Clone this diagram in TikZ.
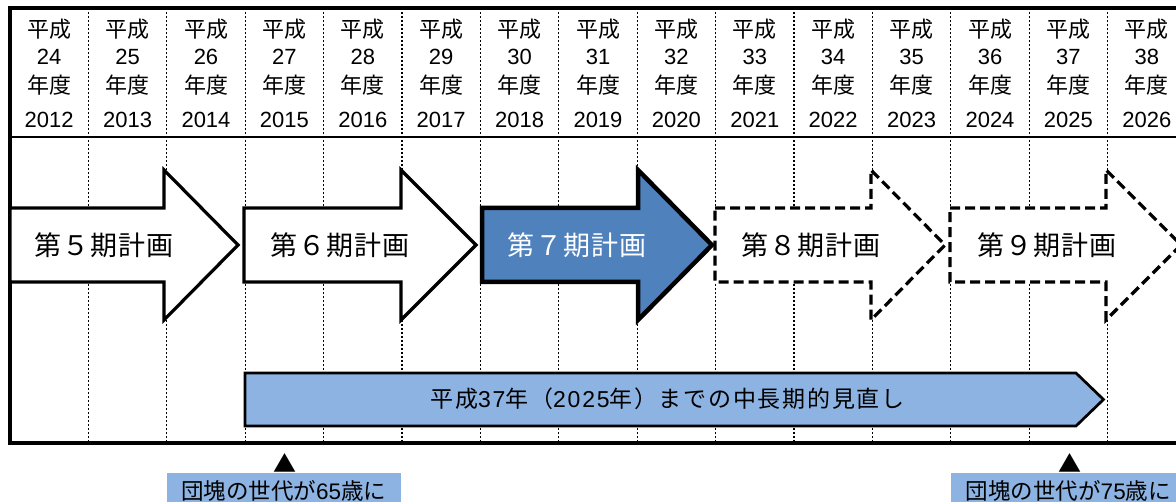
\documentclass[tikz,border=0pt]{standalone}
\usepackage{fontspec}
\setmainfont{Noto Sans CJK JP}
\newfontfamily\digitfont{Liberation Sans}
\newfontfamily\planfont[LetterSpace=3]{Noto Sans CJK JP}
\newfontfamily\barfont[LetterSpace=7.5]{Noto Sans CJK JP}
\newfontfamily\bardigits[LetterSpace=7.5]{Liberation Sans}
\definecolor{planblue}{RGB}{79,129,189}
\definecolor{barblue}{RGB}{141,179,226}
\newcommand\planshape[4]{\draw[#1] (#2,208) -- (#3,208) -- (#3,170) -- (#4,245) -- (#3,320) -- (#3,282) -- (#2,282) -- cycle;}
\tikzset{
  gridline/.style={line width=1.3pt, dash pattern=on 2pt off 2pt},
  frameline/.style={line width=3.5pt},
  sepline/.style={line width=2.5pt},
  planarrow/.style={draw=black, fill=white, line width=3.2pt, line join=miter},
  curplan/.style={planarrow, fill=planblue, line width=4.5pt},
  futplan/.style={planarrow, dash pattern=on 10pt off 5pt},
  barshape/.style={draw=black, fill=barblue, line width=2.7pt, line join=miter},
  hdr/.style={font=\fontsize{22}{22}\selectfont, inner sep=0pt},
  plantext/.style={font=\fontsize{27}{27}\planfont, inner sep=0pt},
  bartext/.style={font=\fontsize{23}{23}\barfont, inner sep=0pt},
  lbl/.style={fill=barblue, font=\fontsize{22.5}{22.5}\selectfont, inner sep=0pt, minimum width=234.5pt, minimum height=34pt, anchor=north},
  tri/.style={font=\fontsize{23}{23}\selectfont, inner sep=0pt}
}
\begin{document}
\begin{tikzpicture}[x=1pt,y=-1pt]
\useasboundingbox (0,0) rectangle (1176,502);
% column grid lines
\foreach \i in {1,...,15}{
  \pgfmathsetmacro\gx{10+78.4*\i}
  \draw[gridline] (\gx,8) -- (\gx,443);
}
% frame
\draw[frameline] (1195,8) -- (10,8) -- (10,443) -- (1195,443);
\draw[sepline] (10,137) -- (1195,137);
% header texts
\foreach \i/\h/\yr in {0/24/2012,1/25/2013,2/26/2014,3/27/2015,4/28/2016,5/29/2017,6/30/2018,7/31/2019,8/32/2020,9/33/2021,10/34/2022,11/35/2023,12/36/2024,13/37/2025,14/38/2026}{
  \pgfmathsetmacro\cx{10+78.4*(\i+0.5)}
  \node[hdr] (era\i) at (\cx,29) {平成};
  \node[hdr] (num\i) at (\cx,57) {\digitfont\h};
  \node[hdr] (nendo\i) at (\cx,85) {年度};
  \node[hdr] (year\i) at (\cx,120) {\digitfont\yr};
}
% plan arrows
\planshape{planarrow}{10}{164}{238}
\planshape{planarrow}{244}{401}{476}
\planshape{curplan}{482}{638}{712}
\planshape{futplan}{715}{871}{945}
\planshape{futplan}{950}{1106}{1181}
\node[plantext] (p5) at (104,245) {第５期計画};
\node[plantext] (p6) at (340,245) {第６期計画};
\node[plantext, text=white] (p7) at (577,245) {第７期計画};
\node[plantext] (p8) at (811,245) {第８期計画};
\node[plantext] (p9) at (1047,245) {第９期計画};
% long-term bar
\draw[barshape] (245,373) -- (1076,373) -- (1103.5,399.5) -- (1076,426) -- (245,426) -- cycle;
\node[bartext] (bar) at (667.5,399) {平成{\bardigits 37}年（{\bardigits 2025}年）までの中長期的見直し};
% markers
\node[tri] (t65) at (285,463) {▲};
\node[tri] (t75) at (1069.5,463) {▲};
\node[lbl] (g65) at (283.75,473.3) {団塊の世代が{\digitfont 65}歳に};
\node[lbl] (g75) at (1068.25,473.3) {団塊の世代が{\digitfont 75}歳に};
\end{tikzpicture}
\end{document}
